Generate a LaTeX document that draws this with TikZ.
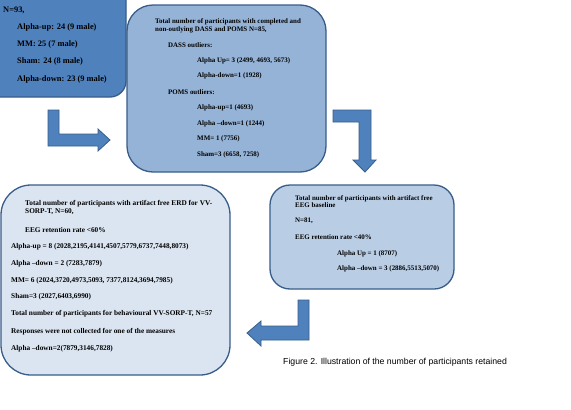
\documentclass[tikz,border=0pt]{standalone}
\usepackage{fontspec}
\setmainfont{Liberation Serif}
\newfontfamily\capfont{Liberation Sans}
\definecolor{cone}{HTML}{4F81BD}
\definecolor{ctwo}{HTML}{95B3D7}
\definecolor{cthree}{HTML}{DBE5F1}
\definecolor{cfour}{HTML}{B9CDE5}
\definecolor{cline}{HTML}{385D8A}
\begin{document}
\begin{tikzpicture}[x=1pt,y=-1pt,
  boxstyle/.style={draw=cline, line width=1.3pt, inner sep=0pt},
  arrowshape/.style={fill=cone, draw=cline, line width=0.8pt, line join=miter},
  bigtxt/.style={anchor=west, inner sep=0pt, font=\fontsize{8.4}{9}\selectfont\bfseries},
  txt/.style={anchor=west, inner sep=0pt, font=\fontsize{6.95}{7.8}\selectfont\bfseries, align=left},
  txtb/.style={anchor=west, inner sep=0pt, font=\fontsize{7.3}{8}\selectfont\bfseries, align=left},
  captxt/.style={anchor=west, inner sep=0pt, font=\fontsize{8.7}{10}\selectfont\capfont}]
\useasboundingbox (0,0) rectangle (571,410);
\clip (0,0) rectangle (571,410);
\fill[white] (0,0) rectangle (571,410);
% boxes
\node (b1) [boxstyle, fill=cone, rounded corners=16pt, minimum width=146pt, minimum height=117pt] at (53,38.5) {};
\node (b2) [boxstyle, fill=ctwo, rounded corners=26pt, minimum width=199pt, minimum height=167pt] at (226.5,88.5) {};
\node (b3) [boxstyle, fill=cthree, rounded corners=30pt, minimum width=229pt, minimum height=190pt] at (115.5,280) {};
\node (b4) [boxstyle, fill=cfour, rounded corners=20pt, minimum width=184pt, minimum height=104pt] at (362,237) {};
% arrows
\draw[arrowshape] (48,110) -- (59,110) -- (59,134) -- (98,134) -- (98,129) -- (110,140) -- (98,151) -- (98,146) -- (48,146) -- cycle;
\draw[arrowshape] (333,110) -- (371,110) -- (371,160) -- (376,160) -- (365,172) -- (353,160) -- (359,160) -- (359,122) -- (333,122) -- cycle;
\draw[arrowshape] (298,300) -- (309,300) -- (309,340) -- (261,340) -- (261,346) -- (247,333) -- (261,321) -- (261,326) -- (298,326) -- cycle;
% box 1 text
\node (t11) [bigtxt] at (3,10) {N=93,};
\node (t12) [bigtxt] at (17,27) {Alpha-up: 24 (9 male)};
\node (t13) [bigtxt] at (17,44) {MM: 25 (7 male)};
\node (t14) [bigtxt] at (17,61) {Sham: 24 (8 male)};
\node (t15) [bigtxt] at (17,79) {Alpha-down: 23 (9 male)};
% box 2 text
\node (t21) [txt] at (155,25.5) {Total number of participants with completed and\\non-outlying DASS and POMS N=85,};
\node (t22) [txt] at (168,45) {DASS outliers:};
\node (t23) [txt] at (197,61) {Alpha Up= 3 (2499, 4693, 5673)};
\node (t24) [txt] at (197,76) {Alpha-down=1 (1928)};
\node (t25) [txt] at (168,92) {POMS outliers:};
\node (t26) [txt] at (197,108) {Alpha-up=1 (4693)};
\node (t27) [txt] at (197,124) {Alpha --down=1 (1244)};
\node (t28) [txt] at (197,139) {MM= 1 (7756)};
\node (t29) [txt] at (197,155) {Sham=3 (6658, 7258)};
% box 3 text
\node (t31) [txtb] at (25,207) {Total number of participants with artifact free ERD for VV-\\SORP-T, N=60,};
\node (t32) [txtb] at (25,230) {EEG retention rate <60\%};
\node (t33) [txtb] at (11,247) {Alpha-up = 8 (2028,2195,4141,4507,5779,6737,7448,8073)};
\node (t34) [txtb] at (11,264) {Alpha --down = 2 (7283,7879)};
\node (t35) [txtb] at (11,281) {MM= 6 (2024,3720,4973,5093, 7377,8124,3694,7985)};
\node (t36) [txtb] at (11,297) {Sham=3 (2027,6403,6990)};
\node (t37) [txtb] at (11,314) {Total number of participants for behavioural VV-SORP-T, N=57};
\node (t38) [txtb] at (11,332) {Responses were not collected for one of the measures};
\node (t39) [txtb] at (11,349) {Alpha --down=2(7879,3146,7828)};
% box 4 text
\node (t41) [txt] at (295,201.5) {Total number of participants with artifact free\\EEG baseline};
\node (t42) [txt] at (295,221) {N=81,};
\node (t43) [txt] at (295,237) {EEG retention rate <40\%};
\node (t44) [txt] at (337,254) {Alpha Up = 1 (8707)};
\node (t45) [txt] at (337,269) {Alpha --down = 3 (2886,5513,5070)};
% caption
\node (cap) [captxt] at (283,362) {Figure 2. Illustration of the number of participants retained};
\end{tikzpicture}
\end{document}
